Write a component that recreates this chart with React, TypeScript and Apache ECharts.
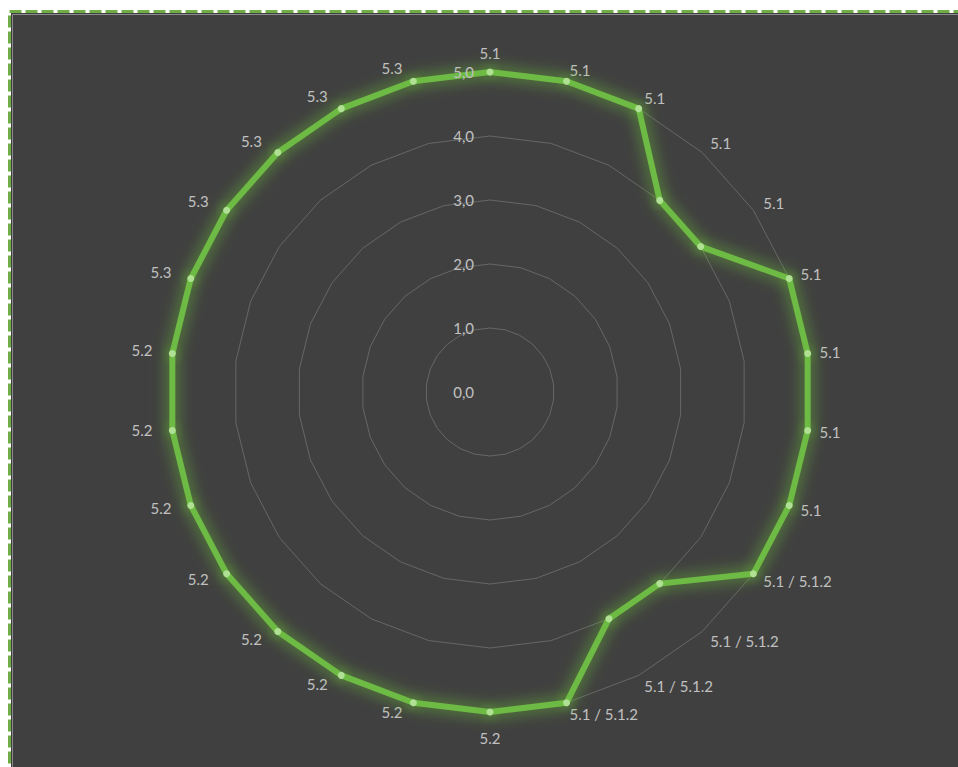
import React, { useEffect, useRef } from "react";
import * as echarts from "echarts";

// Indicator names, listed clockwise starting from the top
const categories: string[] = [
  "5.1", "5.1", "5.1", "5.1", "5.1", "5.1", "5.1", "5.1", "5.1",
  "5.1 / 5.1.2", "5.1 / 5.1.2", "5.1 / 5.1.2", "5.1 / 5.1.2",
  "5.2", "5.2", "5.2", "5.2", "5.2", "5.2", "5.2", "5.2",
  "5.3", "5.3", "5.3", "5.3", "5.3",
];

// Scores per indicator, same clockwise order
const scores: number[] = [
  5, 5, 5, 4, 4, 5, 5, 5, 5,
  5, 4, 4, 5,
  5, 5, 5, 5, 5, 5, 5, 5,
  5, 5, 5, 5, 5,
];

const axisMin = 0;
const axisMax = 5;
const axisSplits = 5;

const LABEL_COLOR = "#C0C0C0";
const LINE_GREEN = "#6DBA44";
const DOT_GREEN = "#B0E094";
const FONT = "Lato, 'Open Sans', sans-serif";

// ECharts lays radar axes out counter-clockwise; reorder so the chart reads clockwise
function toCounterClockwise<T>(arr: T[]): T[] {
  return [arr[0], ...arr.slice(1).reverse()];
}

export default function App() {
  const ref = useRef<HTMLDivElement>(null);

  useEffect(() => {
    if (!ref.current) return;
    const chart = echarts.init(ref.current, null, { renderer: "svg" });

    const n = categories.length;
    const names = toCounterClockwise(categories);
    const values = toCounterClockwise(scores);
    const clockwiseIdx = toCounterClockwise(categories.map((_, i) => i));

    // Names on the left half sit a little further out, the bottom one a little lower
    const styledNames = names.map((name, i) => {
      const k = clockwiseIdx[i];
      if (k === n / 2) return `{b|${name}}`;
      if (k > n / 2) return `{l|${name}}`;
      return `{r|${name}}`;
    });

    const nameText = { color: LABEL_COLOR, fontSize: 15, fontFamily: FONT };

    const geometry = {
      center: [490, 392],
      radius: 320,
      startAngle: 90,
      shape: "polygon",
      splitNumber: axisSplits,
      nameGap: 12,
    };

    chart.setOption({
      animation: false,
      backgroundColor: "#ffffff",
      graphic: [
        {
          type: "rect",
          z: -10,
          z2: 0,
          silent: true,
          shape: { x: 11, y: 13, width: 1000, height: 1000 },
          style: { fill: "#404040" },
        },
        {
          type: "rect",
          z: -10,
          z2: 1,
          silent: true,
          shape: { x: 12.5, y: 14.5, width: 1000, height: 1000 },
          style: { fill: "none", stroke: "#8a8a8a", lineWidth: 1 },
        },
        {
          type: "rect",
          z: -10,
          z2: 2,
          silent: true,
          shape: { x: 9.5, y: 11.5, width: 1000, height: 1000 },
          style: { fill: "none", stroke: "#70AD47", lineWidth: 3, lineDash: [12, 4] },
        },
      ],
      radar: [
        // grid rings and indicator names, beneath the series
        {
          ...geometry,
          z: 1,
          indicator: names.map((_, i) => ({
            name: styledNames[i],
            min: axisMin,
            max: axisMax,
          })),
          axisName: {
            ...nameText,
            rich: {
              l: { ...nameText, padding: [0, 8, 4, 0] },
              r: { ...nameText },
              b: { ...nameText, padding: [6, 0, 0, 0] },
            },
          },
          axisLine: { show: false },
          axisTick: { show: false },
          axisLabel: { show: false },
          splitArea: { show: false },
          splitLine: { lineStyle: { color: "#676767", width: 1 } },
        },
        // value labels along the top axis, drawn above the series
        {
          ...geometry,
          z: 3,
          indicator: names.map((_, i) => ({
            name: "",
            min: axisMin,
            max: axisMax,
            ...(i === 0 ? { axisLabel: { show: true } } : {}),
          })),
          axisName: { show: false },
          axisLine: { show: false },
          axisTick: { show: false },
          splitArea: { show: false },
          splitLine: { show: false },
          axisLabel: {
            show: false,
            color: LABEL_COLOR,
            fontSize: 15,
            fontFamily: FONT,
            margin: 16,
            formatter: (v: number) => v.toFixed(1).replace(".", ","),
          },
        },
      ],
      series: [
        {
          type: "radar",
          radarIndex: 0,
          z: 2,
          symbol: "circle",
          symbolSize: 7,
          lineStyle: {
            color: LINE_GREEN,
            width: 6,
            shadowBlur: 16,
            shadowColor: "rgba(110,200,55,0.95)",
          },
          itemStyle: {
            color: DOT_GREEN,
            shadowBlur: 12,
            shadowColor: "rgba(110,200,55,0.9)",
          },
          data: [{ value: values, name: "score" }],
        },
      ],
    });

    return () => chart.dispose();
  }, []);

  return (
    <div
      ref={ref}
      style={{ position: "fixed", left: 0, top: 0, width: 958, height: 767 }}
    />
  );
}
